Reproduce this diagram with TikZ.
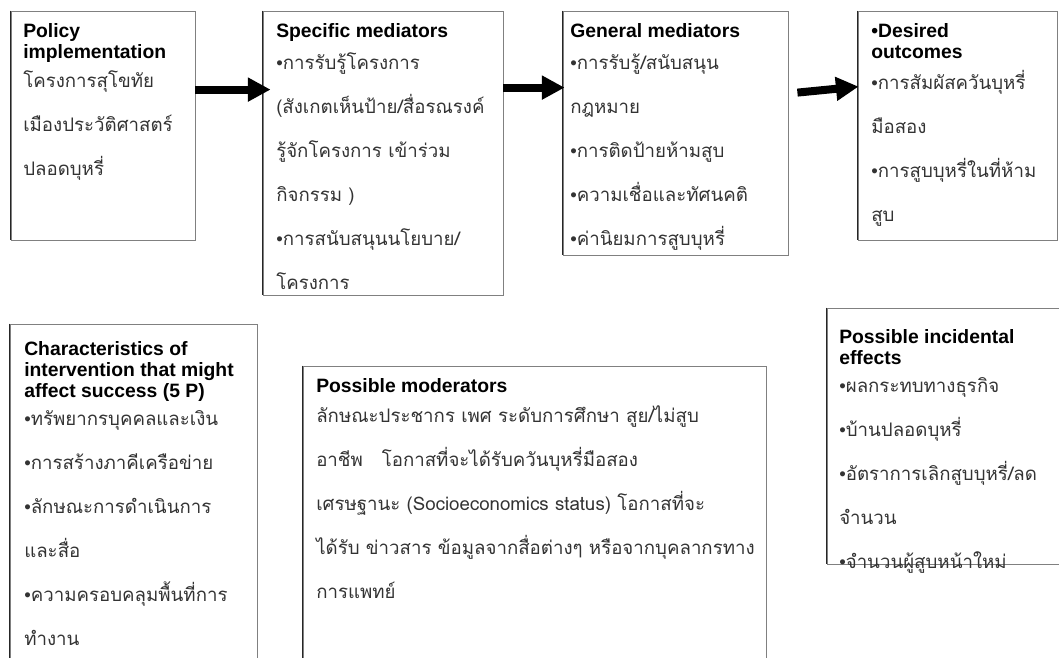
\documentclass[tikz,border=0pt]{standalone}
\usepackage{fontspec}
\setmainfont{Liberation Sans}
\newfontfamily\thaifont[Script=Thai]{Loma}
\usetikzlibrary{arrows.meta,calc,fit}

\newcommand{\blt}{{\rmfamily\textbullet}}
\newcommand{\head}[1]{{\color{black}\rmfamily\bfseries\fontsize{14.5}{16}\selectfont #1}}

\tikzset{
  box/.style={draw=black!50,line width=0.6pt,inner sep=0pt},
  leftedge/.style={draw=black!85,line width=1.1pt},
  txt/.style={anchor=north west,inner sep=0pt,align=left,text=black!80,
    font=\thaifont\fontsize{14}{33}\selectfont},
  bigarrow/.style={line width=6pt,-{Triangle[length=17pt,width=17pt]}},
}

\begin{document}
\begin{tikzpicture}[x=0.75pt,y=-0.75pt]
  \useasboundingbox (0,0) rectangle (1059,657);
  \clip (0,0) rectangle (1059,657);

  % top row
  \node (pol) [box,fit={(11,11) (195,240)}]{};
  \node (spec) [box,fit={(263,11) (503,295)}]{};
  \node (gen) [box,fit={(563,11) (788,255)}]{};
  \node (des) [box,fit={(858,11) (1057,240)}]{};

  % bottom row
  \node (chr) [box,fit={(10,324) (257,720)}]{};
  \node (mod) [box,fit={(303,366) (766,720)}]{};
  \node (inc) [box,fit={(827,308) (1080,564)}]{};

  \foreach \b in {pol,spec,gen,des,chr,mod,inc}
    \draw[leftedge] (\b.north west) -- (\b.south west);

  \node (polt) at (23,23) [txt]{\head{Policy}\\[-17pt]\head{implementation}\\[-11pt]
    โครงการสุโขทัย\\เมืองประวัติศาสตร์\\ปลอดบุหรี่};
  \node (spect) at (276,23) [txt]{\head{Specific mediators}\\[-9pt]
    \blt การรับรู้โครงการ\\(สังเกตเห็นป้าย/สื่อรณรงค์\\รู้จักโครงการ เข้าร่วม\\กิจกรรม )\\
    \blt การสนับสนุนนโยบาย/\\โครงการ};
  \node (gent) at (570,23) [txt]{\head{General mediators}\\[-9pt]
    \blt การรับรู้/สนับสนุน\\กฎหมาย\\\blt การติดป้ายห้ามสูบ\\
    \blt ความเชื่อและทัศนคติ\\\blt ค่านิยมการสูบบุหรี่};
  \node (dest) at (871,23) [txt]{\head{\textbullet Desired}\\[-17pt]\head{outcomes}\\[-10pt]
    \blt การสัมผัสควันบุหรี่\\มือสอง\\\blt การสูบบุหรี่ในที่ห้าม\\สูบ};

  \node (chrt) at (24,341) [txt]{\head{Characteristics of}\\[-17pt]
    \head{intervention that might}\\[-17pt]\head{affect success (5 P)}\\[-12pt]
    \blt ทรัพยากรบุคคลและเงิน\\\blt การสร้างภาคีเครือข่าย\\\blt ลักษณะการดำเนินการ\\
    และสื่อ\\\blt ความครอบคลุมพื้นที่การ\\ทำงาน};
  \node (modt) at (316,378) [txt]{\head{Possible moderators}\\[-10pt]
    ลักษณะประชากร เพศ ระดับการศึกษา สูย/ไม่สูบ\\
    อาชีพ\ \ \ โอกาสที่จะได้รับควันบุหรี่มือสอง\\
    เศรษฐานะ (Socioeconomics status) โอกาสที่จะ\\
    ได้รับ ข่าวสาร ข้อมูลจากสื่อต่างๆ หรือจากบุคลากรทาง\\
    การแพทย์};
  \node (inct) at (839,329) [txt]{\head{Possible incidental}\\[-17pt]\head{effects}\\[-12pt]
    \blt ผลกระทบทางธุรกิจ\\\blt บ้านปลอดบุหรี่\\\blt อัตราการเลิกสูบบุหรี่/ลด\\
    จำนวน\\\blt จำนวนผู้สูบหน้าใหม่};

  % arrows
  \draw[bigarrow] ($(pol.north east)+(0,79)$) -- ($(spec.north west)+(8,79)$);
  \draw[bigarrow] ($(spec.north east)+(0,77)$) -- ($(gen.north west)+(2,77)$);
  \draw[bigarrow] ($(gen.north east)+(9,82)$) -- ($(des.north west)+(1,76)$);

\end{tikzpicture}
\end{document}
